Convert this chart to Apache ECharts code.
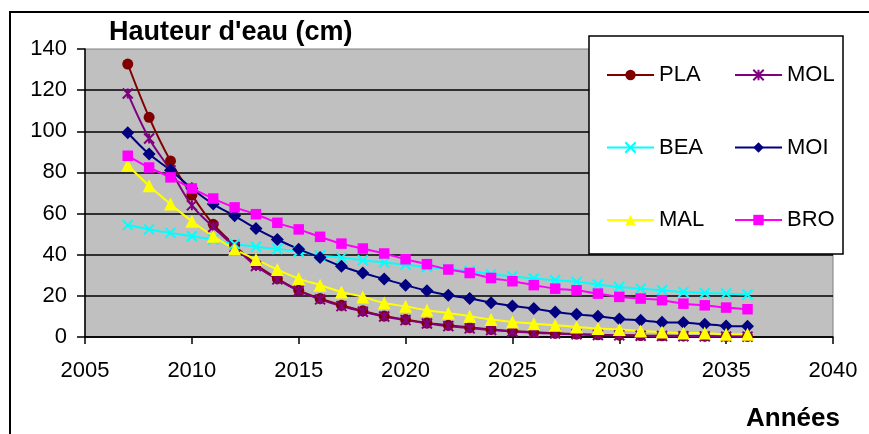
<!DOCTYPE html>
<html>
<head>
<meta charset="utf-8">
<script src="https://cdn.jsdelivr.net/npm/echarts@6/dist/echarts.min.js"></script>
<style>
html,body{margin:0;padding:0;background:#fff;}
#chart{width:869px;height:434px;}
</style>
</head>
<body>
<div id="chart"></div>
<script>
const years = [2007,2008,2009,2010,2011,2012,2013,2014,2015,2016,2017,2018,2019,2020,2021,2022,2023,2024,2025,2026,2027,2028,2029,2030,2031,2032,2033,2034,2035,2036];
const PLA = [132.7,106.8,85.6,69,54.8,44.6,35.2,28.4,22.7,18.7,15.4,12.7,10.2,8.5,6.8,5.7,4.6,3.7,2.9,2.3,1.8,1.4,1.1,0.9,0.7,0.6,0.5,0.4,0.3,0.3];
const MOL = [118.4,96.5,81,64,53.5,43.8,34.5,28,22.4,18.3,15,12.3,10,8.2,6.6,5.3,4.2,3.4,2.7,2.1,1.7,1.3,1.0,0.8,0.6,0.5,0.4,0.3,0.2,0.2];
const BEA = [54.4,52.3,50.6,49,47.4,45.2,43.9,42.8,41.6,39.6,38.6,37.3,36.2,35.2,34,33.2,32.1,30.5,29.5,28.4,27.6,26.8,25.5,24.3,23.5,22.7,21.9,21.4,21.2,20.6];
const MOI = [99.3,88.9,81.1,72.2,64.6,58.9,52.7,47.4,42.7,38.6,34.4,31.1,28.2,25.2,22.5,20.3,18.7,16.7,15.1,13.8,12.2,11,10.1,8.8,8.1,7.2,7,6.2,5.4,5.2];
const MAL = [83.5,73.5,64.6,56.3,49,42.7,37.7,32.8,28.4,25.2,21.9,19.5,16.5,14.9,13,11.7,10.1,8.5,7.3,6.5,5.7,4.9,4.1,3.7,2.9,2.4,1.9,1.9,1.3,1.3];
const BRO = [88.1,82.4,77.6,72.2,67.3,63,59.7,55.5,52.3,48.7,45.4,43,40.6,37.8,35.4,32.8,31.1,28.7,27.1,25.2,23.5,22.7,21.1,19.5,18.7,17.9,16.2,15.4,14.3,13.5];
const xTicks = [2005,2010,2015,2020,2025,2030,2035,2040];
const yTicks = [0,20,40,60,80,100,120,140];

const FONT = "'Liberation Sans', Arial, sans-serif";
function pairs(v){ return years.map((y,i)=>[y,v[i]]); }

const seriesDefs = [
  {name:'PLA', data:PLA, color:'#800000', symbol:'circle', size:11},
  {name:'MOL', data:MOL, color:'#800080', symbol:'path://M0,0L10,10M10,0L0,10M5,0L5,10', size:10, stroke:true},
  {name:'BEA', data:BEA, color:'#00FFFF', symbol:'path://M0,0L10,10M10,0L0,10', size:10, stroke:true},
  {name:'MOI', data:MOI, color:'#000080', symbol:'diamond', size:13},
  {name:'MAL', data:MAL, color:'#FFFF00', symbol:'triangle', size:13},
  {name:'BRO', data:BRO, color:'#FF00FF', symbol:'rect', size:10.5}
];

const chart = echarts.init(document.getElementById('chart'), null, {renderer:'canvas'});
const legendCommon = {
  orient:'vertical', top:64, itemGap:50.5, itemWidth:47, itemHeight:13, padding:0,
  selectedMode:false, z:20,
  textStyle:{fontSize:22, fontFamily:FONT, color:'#000', lineHeight:22}
};
chart.setOption({
  animation:false,
  backgroundColor:'#fff',
  title:[
    {text:"Hauteur d'eau (cm)", left:109, top:19, padding:0,
     textStyle:{fontSize:27, fontWeight:'bold', fontFamily:FONT, color:'#000', lineHeight:27}},
    {text:'Années', left:746, top:406, padding:0,
     textStyle:{fontSize:26, fontWeight:'bold', fontFamily:FONT, color:'#000', lineHeight:26}}
  ],
  graphic:[
    {type:'rect', z:0, silent:true, shape:{x:10, y:12, width:1000, height:1000},
     style:{fill:'none', stroke:'#000', lineWidth:2}},
    {type:'rect', z:15, silent:true, shape:{x:589, y:36, width:254, height:218},
     style:{fill:'#fff', stroke:'#000', lineWidth:1.5}}
  ],
  legend:[
    Object.assign({}, legendCommon, {left:606, data:['PLA','BEA','MAL']}),
    Object.assign({}, legendCommon, {left:734, data:['MOL','MOI','BRO']})
  ],
  grid:{left:85, right:36, top:49, bottom:97, show:true, backgroundColor:'#C0C0C0', borderColor:'#808080', borderWidth:1},
  xAxis:{
    type:'value', min:xTicks[0], max:xTicks[xTicks.length-1], interval:5,
    axisLine:{show:true, lineStyle:{color:'#000', width:1.5}},
    axisTick:{show:true, length:7, lineStyle:{color:'#000', width:1.5}},
    splitLine:{show:false},
    axisLabel:{fontSize:22, fontFamily:FONT, color:'#000', margin:23, showMinLabel:true, showMaxLabel:true,
      formatter:function(v){ return String(v); }}
  },
  yAxis:{
    type:'value', min:yTicks[0], max:yTicks[yTicks.length-1], interval:20,
    axisLine:{show:true, lineStyle:{color:'#000', width:1.5}},
    axisTick:{show:true, length:8, lineStyle:{color:'#000', width:1.5}},
    splitLine:{show:true, showMaxLine:false, lineStyle:{color:'#000', width:1.5}},
    axisLabel:{fontSize:22, fontFamily:FONT, color:'#000', margin:18,
      formatter:function(v){ return String(v); }}
  },
  series: seriesDefs.map(s=>({
    name:s.name, type:'line', data:pairs(s.data), smooth:0.35,
    symbol:s.symbol, symbolSize:s.size, showSymbol:true,
    lineStyle:{color:s.color, width:2},
    itemStyle: s.stroke ? {color:s.color, borderColor:s.color, borderWidth:2} : {color:s.color, borderWidth:0},
    z:2
  }))
});
</script>
</body>
</html>
